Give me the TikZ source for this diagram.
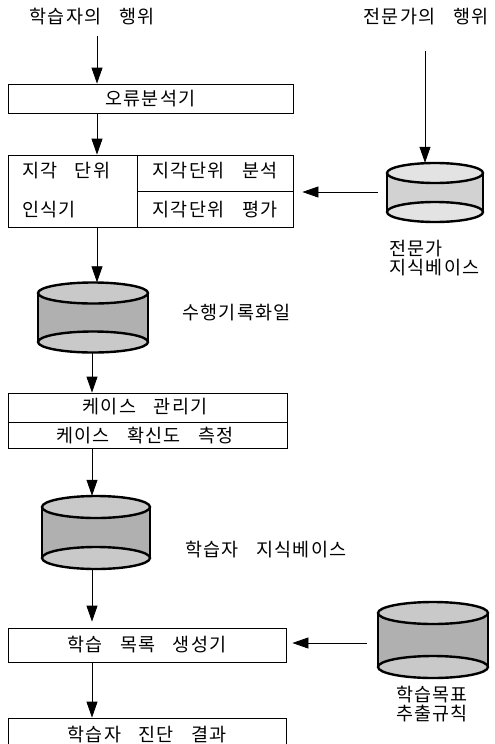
\documentclass[tikz,border=0pt]{standalone}
\usepackage{fontspec}
\setmainfont{Noto Sans CJK KR}[LetterSpace=7, WordSpace=3.2]
\usetikzlibrary{arrows.meta,fit}
\tikzset{
  box/.style={draw, line width=0.8pt, inner sep=0pt},
  lbl/.style={inner sep=0pt},
  arr/.style={line width=0.8pt, -{Triangle[length=16pt,width=11pt]}},
  dbframe/.style={inner sep=0pt},
}
\newcommand{\dbcyl}[8]{%
  \node[dbframe, fit={(#2,{#4-#6}) (#3,{#5+#6})}] (#1) {};
  \fill[#7] (#2,#4) rectangle (#3,#5);
  \filldraw[fill=#8, line width=2.4pt] ({(#2+#3)/2},#5) ellipse [x radius={(#3-#2)/2}, y radius=#6];
  \draw[line width=2.4pt] (#2,#4) -- (#2,#5) (#3,#4) -- (#3,#5);
  \filldraw[fill=#8, line width=2.4pt] ({(#2+#3)/2},#4) ellipse [x radius={(#3-#2)/2}, y radius=#6];
}
\begin{document}
\begin{tikzpicture}[x=1pt, y=-1pt, font=\fontsize{18.5}{19}\selectfont]
\clip (0,0) rectangle (495,744);
\useasboundingbox (0,0) rectangle (495,744);

% top texts
\node[lbl] (t1) at (92,17) {학습자의 행위};
\node[lbl] (t2) at (426,17) {전문가의 행위};

% boxes
\node[box, minimum width=285pt, minimum height=29pt] (b1) at (150.5,98.5) {오류분석기};
\node[box, minimum width=285pt, minimum height=72pt] (b2) at (150.5,191) {};
\coordinate (d2) at (137,0);
\draw[line width=0.8pt] (b2.north -| d2) -- (b2.south -| d2);
\draw[line width=0.8pt] (b2.center -| d2) -- (b2.east);
\node[lbl, anchor=west] (b2a) at (22,171) {지각 단위};
\node[lbl, anchor=west] (b2b) at (22,210) {인식기};
\node[lbl] (b2c) at (215,171) {지각단위 분석};
\node[lbl] (b2d) at (215,210) {지각단위 평가};

\node[box, minimum width=279pt, minimum height=55pt] (b3) at (147.5,420.5) {};
\draw[line width=0.8pt] (b3.west |- 0,422) -- (b3.east |- 0,422);
\node[lbl] (b3a) at (145,407) {케이스 관리기};
\node[lbl] (b3b) at (145,436) {케이스 확신도 측정};

\node[box, minimum width=278pt, minimum height=34pt] (b4) at (147,645) {학습 목록 생성기};
\node[box, minimum width=278pt, minimum height=34pt] (b5) at (147,735) {학습자 진단 결과};

% cylinders
\dbcyl{db1}{387}{483}{173}{212}{10}{gray!35}{gray!22}
\dbcyl{db2}{38}{148}{293}{342}{10.5}{gray!62}{gray!42}
\dbcyl{db3}{42}{150}{507}{558}{11}{gray!62}{gray!42}
\dbcyl{db4}{378}{488}{613}{667}{11}{gray!62}{gray!42}

\node[lbl, anchor=north west, align=left] (db1t) at (389,240) {전문가\\지식베이스};
\node[lbl, anchor=west] (db2t) at (182,313) {수행기록화일};
\node[lbl, anchor=west] (db3t) at (185,550) {학습자 지식베이스};
\node[lbl, align=center] (db4t) at (432,704) {학습목표\\추출규칙};

% connectors
\coordinate (xa) at (97,0);
\coordinate (xb) at (92,0);
\coordinate (xc) at (425,0);
\coordinate (ya) at (0,192);
\coordinate (yb) at (0,643);
\draw[arr, shorten <=10pt] (t1.south -| xa) -- (b1.north -| xa);
\draw[arr] (b1.south -| xa) -- (b2.north -| xa);
\draw[arr, shorten <=25pt] (t2.south -| xc) -- (db1.north -| xc);
\draw[arr, shorten <=9pt, shorten >=9pt] (db1.west |- ya) -- (b2.east |- ya);
\draw[arr] (b2.south -| xa) -- (db2.north -| xa);
\draw[arr] (db2.south -| xb) -- (b3.north -| xb);
\draw[arr] (b3.south -| xb) -- (db3.north -| xb);
\draw[arr, shorten >=6pt] (db3.south -| xb) -- (b4.north -| xb);
\draw[arr, shorten <=11pt, shorten >=6pt] (db4.west |- yb) -- (b4.east |- yb);
\draw[arr] (b4.south -| xb) -- (b5.north -| xb);
\end{tikzpicture}
\end{document}
